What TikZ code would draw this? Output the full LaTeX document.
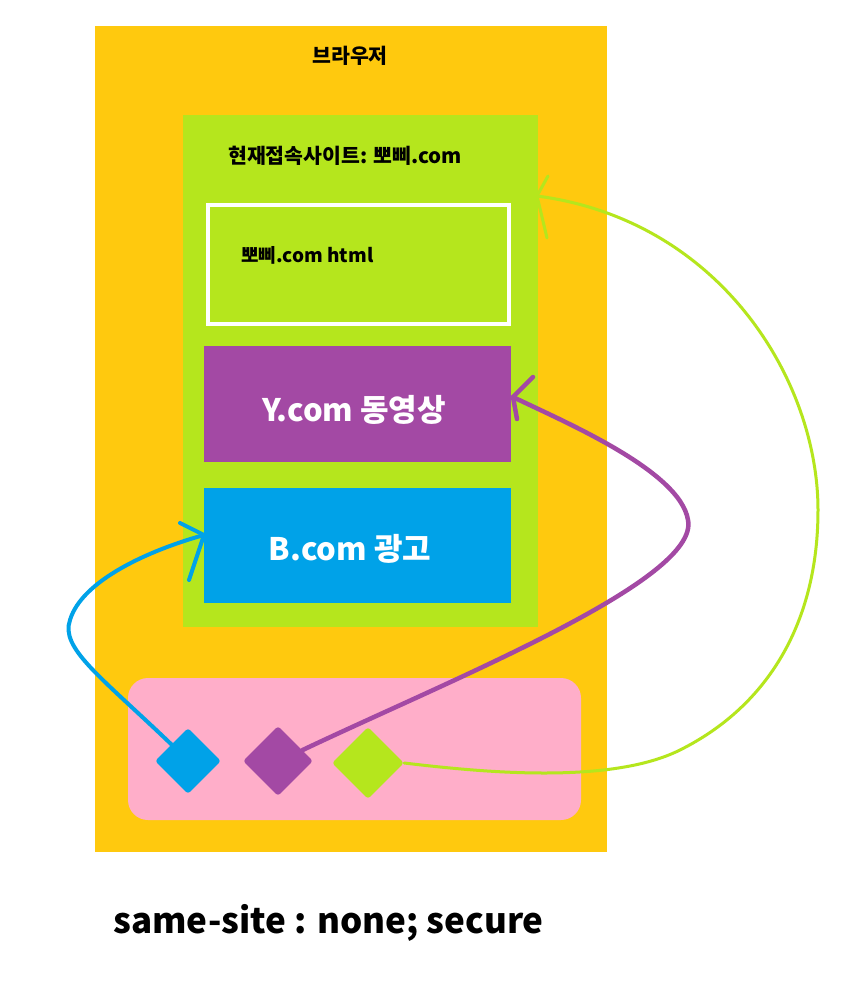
\documentclass[tikz,border=0pt]{standalone}
\usepackage{fontspec}
\setmainfont{Noto Sans CJK KR}
\usetikzlibrary{shapes.geometric}
\definecolor{cgold}{HTML}{FFC90E}
\definecolor{clime}{HTML}{B5E61D}
\definecolor{cpurple}{HTML}{A349A4}
\definecolor{cblue}{HTML}{00A2E8}
\definecolor{crose}{HTML}{FFAEC9}
\tikzset{
  box/.style={inner sep=0pt, outer sep=0pt, draw=none, anchor=north west},
  gem/.style={diamond, aspect=1, inner sep=0pt, draw=none, rounded corners=3pt},
  lbl/.style={inner sep=0pt, font=\bfseries},
  curve/.style={line cap=round, line join=round},
}
\begin{document}
\begin{tikzpicture}[x=1pt,y=-1pt]
\useasboundingbox[fill=white] (0,0) rectangle (853,991);
% browser
\node[box, fill=cgold, minimum width=512pt, minimum height=826pt] (browser) at (95,26) {};
\node[lbl, font=\bfseries\fontsize{20.5}{24}\selectfont] (btitle) at (350,56) {브라우저};
% site
\node[box, fill=clime, minimum width=355pt, minimum height=512pt] (site) at (183,115) {};
\node[lbl, font=\bfseries\fontsize{20.5}{24}\selectfont, anchor=west] (stitle) at (228,156) {현재접속사이트: 뽀삐.com};
\node[box, fill=clime, draw=white, line width=4pt, minimum width=301pt, minimum height=119pt] (html) at (208,205) {};
\node[lbl, font=\bfseries\fontsize{19}{22}\selectfont, anchor=west] (htext) at (241,255) {뽀삐.com html};
\node[box, fill=cpurple, minimum width=307pt, minimum height=116pt] (yv) at (204,346) {};
\node[lbl, text=white, font=\bfseries\fontsize{31}{34}\selectfont] (ytext) at (354,410) {Y.com 동영상};
\node[box, fill=cblue, minimum width=307pt, minimum height=115pt] (bad) at (204,488) {};
\node[lbl, text=white, font=\bfseries\fontsize{31}{34}\selectfont] (btext) at (350,549) {B.com 광고};
% cookie jar
\node[box, fill=crose, rounded corners=20pt, minimum width=453pt, minimum height=142pt] (jar) at (128,678) {};
\node[gem, fill=cblue, minimum size=66pt] (bd) at (188,761) {};
\node[gem, fill=cpurple, minimum size=70pt] (pd) at (278,761) {};
\node[gem, fill=clime, minimum size=72pt] (gd) at (368,763) {};
% tips
\coordinate (btip) at (204,535);
\coordinate (ptip) at (513,397);
\coordinate (gtip) at (537,196);
% blue
\draw[curve, cblue, line width=4pt] (bd.135) .. controls (100,676) and (60,648) .. (70,620) .. controls (82,580) and (150,550) .. (btip);
\draw[curve, cblue, line width=4pt] ([shift={(-24,-12)}]btip) -- (btip) -- ([shift={(-15,45)}]btip);
% purple
\draw[curve, cpurple, line width=4.5pt] (pd.24) .. controls (450,680) and (700,580) .. (688,520) .. controls (680,470) and (560,420) .. (ptip);
\draw[curve, cpurple, line width=4.5pt] ([shift={(20,-20)}]ptip) -- (ptip) -- ([shift={(4,22)}]ptip);
% green
\draw[curve, clime, line width=3pt] (gd.east) .. controls (480,772) and (610,785) .. (680,750) .. controls (770,705) and (818,620) .. (818,510) .. controls (818,380) and (720,220) .. (gtip);
\draw[curve, clime, line width=3pt] ([shift={(11,-20)}]gtip) -- (gtip) -- ([shift={(10,42)}]gtip);
% caption
\node[lbl, font=\bfseries\fontsize{35}{40}\selectfont, anchor=west] (cap) at (113,923) {same-site : none; secure};
\end{tikzpicture}
\end{document}
